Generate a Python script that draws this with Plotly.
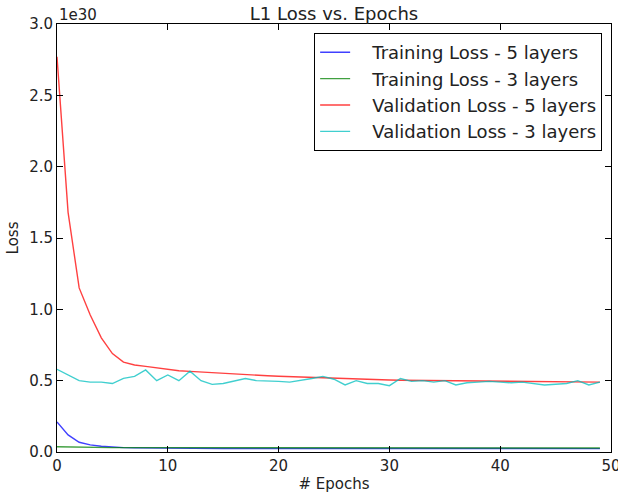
import plotly.graph_objects as go

epochs = list(range(50))

train_5 = [0.21, 0.12, 0.068, 0.05, 0.04, 0.034, 0.031, 0.029, 0.028, 0.027,
           0.027, 0.026, 0.026, 0.026, 0.026, 0.025, 0.025, 0.025, 0.025, 0.025,
           0.025, 0.025, 0.025, 0.025, 0.025, 0.024, 0.024, 0.024, 0.024, 0.024,
           0.024, 0.024, 0.024, 0.024, 0.024, 0.024, 0.024, 0.024, 0.024, 0.024,
           0.024, 0.024, 0.024, 0.024, 0.024, 0.024, 0.024, 0.024, 0.024, 0.024]
train_3 = [0.037, 0.035, 0.034, 0.033, 0.032, 0.031, 0.031, 0.031, 0.030, 0.030,
           0.030, 0.030, 0.030, 0.030, 0.030, 0.029, 0.029, 0.029, 0.029, 0.029,
           0.029, 0.029, 0.029, 0.029, 0.029, 0.029, 0.029, 0.029, 0.029, 0.029,
           0.029, 0.029, 0.029, 0.028, 0.028, 0.028, 0.028, 0.028, 0.028, 0.028,
           0.028, 0.028, 0.028, 0.028, 0.028, 0.028, 0.028, 0.028, 0.028, 0.028]
val_5 = [2.77, 1.68, 1.15, 0.96, 0.80, 0.69, 0.63, 0.61, 0.60, 0.59,
         0.575, 0.57, 0.565, 0.56, 0.556, 0.552, 0.548, 0.543, 0.538, 0.534,
         0.531, 0.528, 0.524, 0.521, 0.518, 0.515, 0.512, 0.51, 0.508, 0.506,
         0.505, 0.503, 0.502, 0.501, 0.50, 0.499, 0.498, 0.497, 0.496, 0.495,
         0.495, 0.494, 0.494, 0.493, 0.493, 0.492, 0.492, 0.491, 0.491, 0.49]
val_3 = [0.58, 0.54, 0.50, 0.49, 0.49, 0.48, 0.516, 0.53, 0.575, 0.50,
         0.54, 0.50, 0.567, 0.50, 0.474, 0.48, 0.50, 0.515, 0.50, 0.50,
         0.495, 0.49, 0.50, 0.515, 0.53, 0.51, 0.47, 0.50, 0.48, 0.48,
         0.465, 0.515, 0.495, 0.50, 0.49, 0.50, 0.47, 0.485, 0.49, 0.495,
         0.49, 0.485, 0.49, 0.48, 0.47, 0.475, 0.48, 0.50, 0.47, 0.49]

series = [
    ("Training Loss - 5 layers", train_5, "rgba(0,0,255,0.75)"),
    ("Training Loss - 3 layers", train_3, "rgba(0,128,0,0.75)"),
    ("Validation Loss - 5 layers", val_5, "rgba(255,0,0,0.75)"),
    ("Validation Loss - 3 layers", val_3, "rgba(0,191,191,0.75)"),
]

FONT = "DejaVu Sans"
TXT = "#222"
PAD = "\u00a0\u00a0\u00a0"

fig = go.Figure()
for name, vals, color in series:
    fig.add_trace(go.Scatter(x=epochs, y=vals, mode="lines", name=PAD + name,
                             line=dict(color=color, width=1.4)))

axis_common = dict(showline=True, linecolor="black", linewidth=1, mirror="ticks",
                   ticks="inside", ticklen=6, tickcolor="black", showgrid=False,
                   zeroline=False, automargin=False, ticklabeloverflow="allow",
                   tickfont=dict(family=FONT, size=15, color=TXT))

fig.update_layout(
    width=618, height=496,
    margin=dict(l=57, r=7, t=24, b=44),
    paper_bgcolor="white", plot_bgcolor="white",
    font=dict(family=FONT, color=TXT),
    title=dict(text="L1 Loss vs. Epochs", x=0.5, xref="paper", xanchor="center",
               y=1, yref="paper", yanchor="bottom", pad=dict(b=4),
               font=dict(family=FONT, size=18, color=TXT)),
    xaxis=dict(range=[0, 50], dtick=10, title=dict(text="# Epochs", standoff=4,
               font=dict(family=FONT, size=15, color=TXT)), **axis_common),
    yaxis=dict(range=[0, 3.0], dtick=0.5, tickformat=".1f",
               title=dict(text="Loss", standoff=6, font=dict(family=FONT, size=15, color=TXT)),
               **axis_common),
    legend=dict(x=0.984, y=0.979, xanchor="right", yanchor="top",
                bordercolor="black", borderwidth=1, bgcolor="white",
                font=dict(family=FONT, size=18, color=TXT), tracegroupgap=0),
    showlegend=True,
)
fig.add_annotation(text="1e30", xref="paper", yref="paper", x=0, y=1, xanchor="left",
                   yanchor="bottom", showarrow=False, yshift=-2,
                   font=dict(family=FONT, size=15, color=TXT))

fig.write_html("out.html", config={"displayModeBar": False},
               post_script="document.body.style.margin='0';document.body.style.overflow='hidden';")
